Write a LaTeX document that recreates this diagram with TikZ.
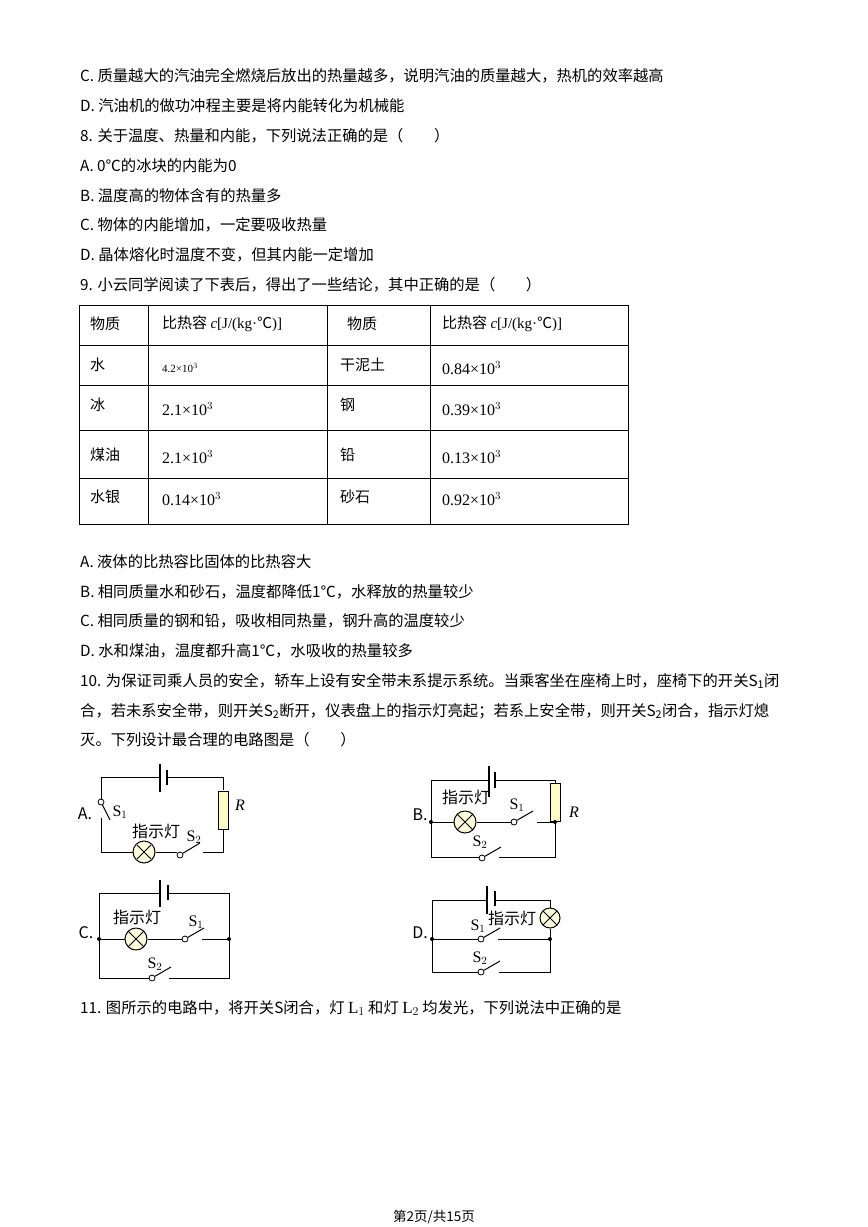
\documentclass[tikz,border=0pt]{standalone}
\usepackage{fontspec}
\setmainfont{Noto Sans CJK SC}
\newfontfamily\lib{Liberation Serif}
\begin{document}
\begin{tikzpicture}[x=1pt,y=-1pt,
  txt/.style={anchor=west,inner sep=0,font=\fontsize{15.3}{17}\selectfont},
  cel/.style={anchor=west,inner sep=0,font=\fontsize{15}{16}\selectfont},
  lab/.style={inner sep=0,font=\fontsize{16}{17}\selectfont},
  wire/.style={line width=1pt},
  lampc/.style={circle,draw,line width=1pt,fill=yellow!15,minimum size=22pt,inner sep=0},
  res/.style={draw,line width=1pt,fill=yellow!25,minimum width=10pt,minimum height=38pt,inner sep=0},
  ctc/.style={circle,draw,line width=0.8pt,fill=white,minimum size=6pt,inner sep=0},
  jdot/.style={circle,fill,minimum size=4pt,inner sep=0}]
\useasboundingbox (0,0) rectangle (868,1227);
\fill[white] (0,0) rectangle (868,1227);
% text lines
\node[txt] (t1) at (80,76) {C. 质量越大的汽油完全燃烧后放出的热量越多，说明汽油的质量越大，热机的效率越高};
\node[txt] (t2) at (80,106) {D. 汽油机的做功冲程主要是将内能转化为机械能};
\node[txt] (t3) at (80,136) {8. 关于温度、热量和内能，下列说法正确的是（　　）};
\node[txt] (t4) at (80,166) {A. 0℃的冰块的内能为0};
\node[txt] (t5) at (80,196) {B. 温度高的物体含有的热量多};
\node[txt] (t6) at (80,225) {C. 物体的内能增加，一定要吸收热量};
\node[txt] (t7) at (80,255) {D. 晶体熔化时温度不变，但其内能一定增加};
\node[txt] (t8) at (80,285) {9. 小云同学阅读了下表后，得出了一些结论，其中正确的是（　　）};
% table
\draw[line width=0.8pt] (79,305) rectangle (628,524);
\foreach \yy in {345,385,430,478} \draw[line width=0.8pt] (79,\yy) -- (628,\yy);
\foreach \xx in {148,327,430} \draw[line width=0.8pt] (\xx,305) -- (\xx,524);
\node[cel] (h1) at (90,324) {物质};
\node[cel] (h2) at (162,324) {比热容 {\lib\itshape c}{\lib [J/(kg·}℃{\lib )]}};
\node[cel] (h3) at (347,324) {物质};
\node[cel] (h4) at (442,324) {比热容 {\lib\itshape c}{\lib [J/(kg·}℃{\lib )]}};
\node[cel] (r1a) at (90,365) {水};
\node[cel,font=\lib\fontsize{11}{12}\selectfont] (r1b) at (162,368) {4.2×10$^3$};
\node[cel] (r1c) at (340,365) {干泥土};
\node[cel,font=\lib\fontsize{16}{16}\selectfont] (r1d) at (442,368) {0.84×10$^3$};
\node[cel] (r2a) at (90,405) {冰};
\node[cel,font=\lib\fontsize{16}{16}\selectfont] (r2b) at (162,409) {2.1×10$^3$};
\node[cel] (r2c) at (340,405) {钢};
\node[cel,font=\lib\fontsize{16}{16}\selectfont] (r2d) at (442,409) {0.39×10$^3$};
\node[cel] (r3a) at (90,455) {煤油};
\node[cel,font=\lib\fontsize{16}{16}\selectfont] (r3b) at (162,457) {2.1×10$^3$};
\node[cel] (r3c) at (340,455) {铅};
\node[cel,font=\lib\fontsize{16}{16}\selectfont] (r3d) at (442,457) {0.13×10$^3$};
\node[cel] (r4a) at (90,497) {水银};
\node[cel,font=\lib\fontsize{16}{16}\selectfont] (r4b) at (162,499) {0.14×10$^3$};
\node[cel] (r4c) at (340,497) {砂石};
\node[cel,font=\lib\fontsize{16}{16}\selectfont] (r4d) at (442,499) {0.92×10$^3$};
\node[txt] (t9) at (80,562) {A. 液体的比热容比固体的比热容大};
\node[txt] (t10) at (80,592) {B. 相同质量水和砂石，温度都降低1℃，水释放的热量较少};
\node[txt] (t11) at (80,621) {C. 相同质量的钢和铅，吸收相同热量，钢升高的温度较少};
\node[txt] (t12) at (80,651) {D. 水和煤油，温度都升高1℃，水吸收的热量较多};
\node[txt] (t13) at (80,681) {10. 为保证司乘人员的安全，轿车上设有安全带未系提示系统。当乘客坐在座椅上时，座椅下的开关S\textsubscript{1}闭};
\node[txt] (t14) at (80,711) {合，若未系安全带，则开关S\textsubscript{2}断开，仪表盘上的指示灯亮起；若系上安全带，则开关S\textsubscript{2}闭合，指示灯熄};
\node[txt] (t15) at (80,740) {灭。下列设计最合理的电路图是（　　）};
\node[txt] (t16) at (80,1008) {11. 图所示的电路中，将开关S闭合，灯 {\lib\fontsize{17}{17}\selectfont L$_1$} 和灯 {\lib\fontsize{17}{17}\selectfont L$_2$} 均发光，下列说法中正确的是};
\node[inner sep=0,font=\fontsize{13.5}{14}\selectfont] (pg) at (434,1217) {第2页/共15页};

% ---------- Circuit A ----------
\node[lab] (lA) at (85,814) {A.};
\draw[wire] (101,799) -- (101,777) -- (160,777);
\draw[wire] (167,777) -- (223,777) -- (223,790);
\node[res] (RA) at (223,810) {};
\draw[wire] (RA.south) -- (223,852) -- (203,852);
\node[lampc] (LAc) at (144,852) {};
\draw[wire] (101,818) -- (101,852) -- (LAc.west);
\draw[wire] (LAc.east) -- (177,852);
\node[ctc] (sA2) at (180,855) {};
\draw[wire] (sA2) -- (200,843);
\node[ctc] (sA1) at (101,802) {};
\draw[wire] (sA1) -- (110,820);
\draw[line width=1.2pt] (160,764) -- (160,792);
\draw[line width=1.2pt] (167,770) -- (167,785);
\draw[wire] (LAc.center) ++(-7,-7) -- ++(14,14) ++(0,-14) -- ++(-14,14);
\node[lab] (sA1l) at (120,812) {\lib S$_1$};
\node[lab] (zA) at (156,831) {指示灯};
\node[lab] (sA2l) at (194,837) {\lib S$_2$};
\node[lab] (RAl) at (240,805) {\lib\itshape R};

% ---------- Circuit B ----------
\node[lab] (lB) at (420,815) {B.};
\draw[wire] (431,822) -- (431,780) -- (489,780);
\draw[wire] (495,780) -- (555,780) -- (555,787);
\node[res] (RB) at (555,802) {};
\draw[wire] (RB.south) -- (555,857) -- (499,857);
\draw[wire] (431,822) -- (431,857) -- (480,857);
\node[lampc] (LB) at (465,822) {};
\draw[wire] (431,822) -- (LB.west);
\draw[wire] (LB.east) -- (511,822);
\draw[wire] (537,822) -- (555,822);
\node[ctc] (sB1) at (514,822) {};
\draw[wire] (sB1) -- (533,811);
\node[ctc] (sB2) at (482,858) {};
\draw[wire] (sB2) -- (501,847);
\draw[wire] (LB.center) ++(-8,-8) -- ++(16,16) ++(0,-16) -- ++(-16,16);
\draw[line width=1.2pt] (489,766) -- (489,797);
\draw[line width=1.2pt] (495,772) -- (495,788);
\node[jdot] (dB1) at (431,822) {};
\node[jdot] (dB2) at (555,822) {};
\node[lab] (zB) at (466,797) {指示灯};
\node[lab] (sB1l) at (517,805) {\lib S$_1$};
\node[lab] (sB2l) at (480,842) {\lib S$_2$};
\node[lab] (RBl) at (574,812) {\lib\itshape R};

% ---------- Circuit C ----------
\node[lab] (lC) at (86,933) {C.};
\draw[wire] (99,978) -- (99,893) -- (160,893);
\draw[wire] (168,893) -- (229,893) -- (229,978) -- (169,978);
\draw[wire] (99,978) -- (150,978);
\node[lampc] (LC) at (136,939) {};
\draw[wire] (99,939) -- (LC.west);
\draw[wire] (LC.east) -- (182,939);
\draw[wire] (202,939) -- (229,939);
\node[ctc] (sC1) at (185,939) {};
\draw[wire] (sC1) -- (204,928);
\node[ctc] (sC2) at (152,978) {};
\draw[wire] (sC2) -- (171,967);
\draw[wire] (LC.center) ++(-8,-8) -- ++(16,16) ++(0,-16) -- ++(-16,16);
\draw[line width=1.2pt] (160,880) -- (160,907);
\draw[line width=1.2pt] (168,885) -- (168,900);
\node[jdot] (dC1) at (99,939) {};
\node[jdot] (dC2) at (229,939) {};
\node[lab] (zC) at (137,917) {指示灯};
\node[lab] (sC1l) at (196,922) {\lib S$_1$};
\node[lab] (sC2l) at (155,964) {\lib S$_2$};

% ---------- Circuit D ----------
\node[lab] (lD) at (420,933) {D.};
\draw[wire] (432,972) -- (432,900) -- (487,900);
\draw[wire] (495,900) -- (550,900) -- (550,908);
\node[lampc,minimum size=20pt] (LD) at (550,918) {};
\draw[wire] (LD.south) -- (550,972) -- (499,972);
\draw[wire] (432,972) -- (479,972);
\draw[wire] (432,939) -- (478,939);
\draw[wire] (498,939) -- (550,939);
\node[ctc] (sD1) at (481,939) {};
\draw[wire] (sD1) -- (500,928);
\node[ctc] (sD2) at (481,972) {};
\draw[wire] (sD2) -- (500,961);
\draw[wire] (LD.center) ++(-7,-7) -- ++(14,14) ++(0,-14) -- ++(-14,14);
\draw[line width=1.2pt] (487,886) -- (487,914);
\draw[line width=1.2pt] (495,891) -- (495,906);
\node[jdot] (dD1) at (432,939) {};
\node[jdot] (dD2) at (550,939) {};
\node[lab] (sD1l) at (478,926) {\lib S$_1$};
\node[lab] (zD) at (512,918) {指示灯};
\node[lab] (sD2l) at (480,958) {\lib S$_2$};
\end{tikzpicture}
\end{document}
